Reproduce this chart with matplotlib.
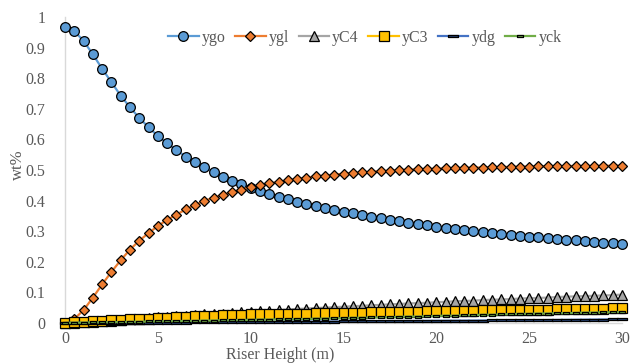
import numpy as np
import matplotlib.pyplot as plt
from matplotlib.path import Path

# riser height (m), every 0.5 m
height = np.arange(0, 30.5, 0.5)

ygo = [0.968, 0.954, 0.922, 0.878, 0.831, 0.787, 0.743, 0.705, 0.670, 0.640,
       0.611, 0.588, 0.565, 0.544, 0.525, 0.509, 0.493, 0.478, 0.465, 0.454,
       0.442, 0.431, 0.422, 0.413, 0.405, 0.396, 0.389, 0.382, 0.376, 0.370,
       0.364, 0.358, 0.353, 0.348, 0.343, 0.338, 0.333, 0.328, 0.323, 0.319,
       0.315, 0.310, 0.307, 0.304, 0.301, 0.297, 0.294, 0.291, 0.288, 0.285,
       0.282, 0.280, 0.277, 0.275, 0.272, 0.270, 0.267, 0.265, 0.263, 0.261,
       0.259]
ygl = [0.000, 0.013, 0.042, 0.083, 0.126, 0.167, 0.205, 0.240, 0.269, 0.294,
       0.317, 0.337, 0.354, 0.371, 0.386, 0.399, 0.410, 0.419, 0.428, 0.436,
       0.443, 0.450, 0.456, 0.461, 0.466, 0.471, 0.475, 0.479, 0.482, 0.485,
       0.488, 0.490, 0.492, 0.494, 0.496, 0.498, 0.500, 0.501, 0.502, 0.503,
       0.504, 0.505, 0.506, 0.507, 0.508, 0.508, 0.509, 0.510, 0.510, 0.511,
       0.511, 0.512, 0.512, 0.512, 0.513, 0.513, 0.513, 0.513, 0.514, 0.514,
       0.514]
yC4 = [0.000, 0.001, 0.002, 0.004, 0.006, 0.008, 0.010, 0.012, 0.014, 0.016,
       0.018, 0.020, 0.022, 0.024, 0.026, 0.028, 0.029, 0.031, 0.033, 0.035,
       0.036, 0.038, 0.040, 0.042, 0.044, 0.046, 0.047, 0.049, 0.050, 0.052,
       0.053, 0.055, 0.056, 0.058, 0.059, 0.061, 0.062, 0.064, 0.065, 0.066,
       0.068, 0.069, 0.071, 0.072, 0.073, 0.075, 0.076, 0.077, 0.078, 0.080,
       0.081, 0.082, 0.083, 0.085, 0.086, 0.087, 0.088, 0.089, 0.090, 0.091,
       0.093]
yC3 = [0.000, 0.002, 0.004, 0.006, 0.007, 0.009, 0.010, 0.012, 0.013, 0.014,
       0.015, 0.017, 0.019, 0.020, 0.022, 0.023, 0.024, 0.025, 0.026, 0.027,
       0.028, 0.029, 0.029, 0.030, 0.030, 0.031, 0.031, 0.032, 0.032, 0.033,
       0.033, 0.034, 0.034, 0.035, 0.035, 0.036, 0.036, 0.037, 0.037, 0.038,
       0.038, 0.039, 0.039, 0.040, 0.040, 0.041, 0.041, 0.042, 0.042, 0.043,
       0.043, 0.044, 0.044, 0.045, 0.045, 0.046, 0.046, 0.047, 0.047, 0.048,
       0.048]
ydg = [0.0000, 0.0001, 0.0002, 0.0003, 0.0004, 0.0005, 0.0006, 0.0007, 0.0008, 0.0009,
       0.0010, 0.0012, 0.0014, 0.0016, 0.0018, 0.0020, 0.0022, 0.0024, 0.0026, 0.0028,
       0.0030, 0.0032, 0.0034, 0.0036, 0.0038, 0.0040, 0.0042, 0.0044, 0.0046, 0.0048,
       0.0050, 0.0052, 0.0054, 0.0056, 0.0058, 0.0060, 0.0062, 0.0064, 0.0066, 0.0068,
       0.0070, 0.0072, 0.0074, 0.0076, 0.0078, 0.0080, 0.0082, 0.0084, 0.0086, 0.0088,
       0.0090, 0.0093, 0.0096, 0.0099, 0.0102, 0.0105, 0.0108, 0.0111, 0.0114, 0.0117,
       0.0120]
yck = [0.000, 0.001, 0.001, 0.002, 0.002, 0.003, 0.003, 0.004, 0.004, 0.005,
       0.005, 0.006, 0.006, 0.007, 0.007, 0.008, 0.008, 0.009, 0.009, 0.010,
       0.010, 0.011, 0.011, 0.012, 0.012, 0.013, 0.013, 0.014, 0.014, 0.015,
       0.016, 0.017, 0.017, 0.018, 0.018, 0.019, 0.020, 0.021, 0.021, 0.022,
       0.023, 0.024, 0.024, 0.025, 0.026, 0.027, 0.027, 0.028, 0.029, 0.030,
       0.030, 0.031, 0.031, 0.032, 0.032, 0.033, 0.034, 0.034, 0.035, 0.035,
       0.036]

names = ['ygo', 'ygl', 'yC4', 'yC3', 'ydg', 'yck']
series = [ygo, ygl, yC4, yC3, ydg, yck]

# excel style "dash" marker: flat rectangle
dash = Path([(-1, -0.3), (1, -0.3), (1, 0.3), (-1, 0.3), (-1, -0.3)],
            [Path.MOVETO, Path.LINETO, Path.LINETO, Path.LINETO, Path.CLOSEPOLY])

styles = [
    dict(color='#5B9BD5', marker='o', mfc='#5B9BD5', ms=7),
    dict(color='#ED7D31', marker='D', mfc='#ED7D31', ms=5.2),
    dict(color='#A5A5A5', marker='^', mfc='#A5A5A5', ms=7.5),
    dict(color='#FFC000', marker='s', mfc='#FFC000', ms=6.5),
    dict(color='#4472C4', marker=dash, mfc='#264478', ms=7),
    dict(color='#70AD47', marker=dash, mfc='#70AD47', ms=5),
]

txt = '#595959'
plt.rcParams['font.family'] = ['Liberation Serif', 'DejaVu Serif']

fig = plt.figure(figsize=(6.3, 3.64), dpi=100)
ax = fig.add_axes([65 / 630, 41 / 364, 557 / 630, 306 / 364])

for name, y, st in zip(names, series, styles):
    ax.plot(height, y, label=name, lw=1.6, mec='black', mew=0.9,
            clip_on=False, **st)

ax.set_xlim(0, 30)
ax.set_ylim(0, 1)
ax.set_xticks(np.arange(0, 31, 5))
ax.set_yticks(np.arange(0, 1.01, 0.1))
ax.set_yticklabels(['0', '0.1', '0.2', '0.3', '0.4', '0.5', '0.6', '0.7', '0.8', '0.9', '1'])
ax.tick_params(length=0, labelsize=11.5, labelcolor=txt)
ax.tick_params(axis='y', pad=14)
ax.tick_params(axis='x', pad=6)
for s in ['top', 'right']:
    ax.spines[s].set_visible(False)
for s in ['left', 'bottom']:
    ax.spines[s].set_color('#D9D9D9')
    ax.spines[s].set_linewidth(1)
    ax.spines[s].set_zorder(0)

fig.text(280 / 630, 1 / 364, 'Riser Height (m)', ha='center', va='bottom',
         fontsize=11.5, color=txt)
fig.text(18 / 630, 1 - 165 / 364, 'wt%', ha='center', va='center',
         rotation=90, fontsize=12, color=txt)

fig.legend(loc='center', bbox_to_anchor=(365 / 630, 1 - 38 / 364), ncol=6,
           frameon=False, fontsize=11.5, handlelength=1.9, handletextpad=0.2,
           columnspacing=0.6, labelcolor=txt)

fig.savefig('out.png', dpi=100)
